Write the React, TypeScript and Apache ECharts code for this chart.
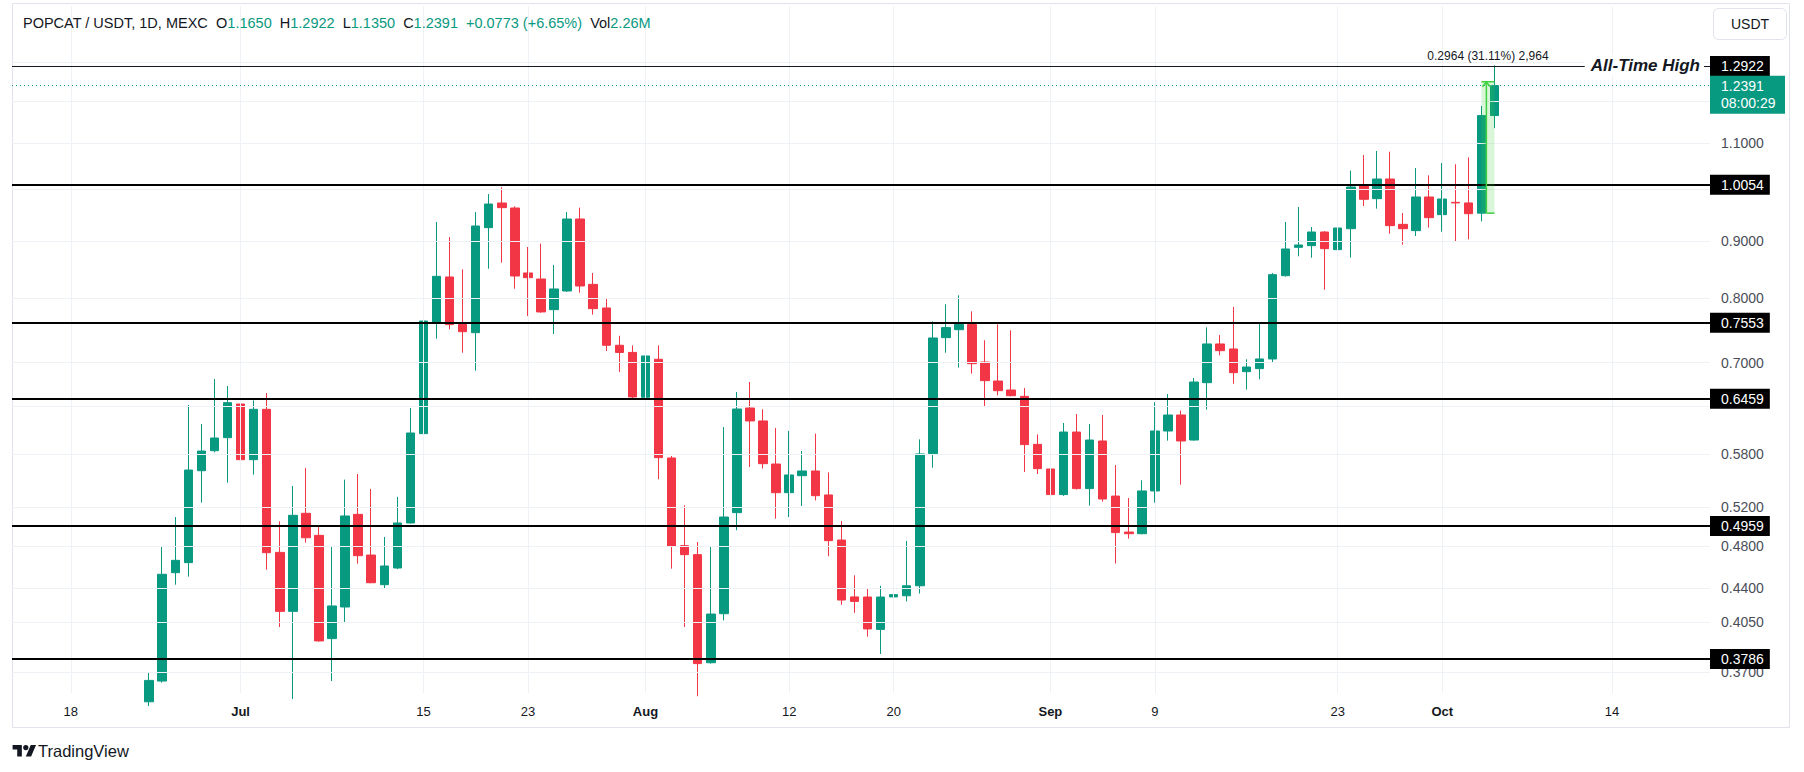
import React, { useEffect, useRef } from 'react';
import * as echarts from 'echarts';

const FONT = '"Liberation Sans", Arial, Helvetica, sans-serif';
const TEXT = '#131722';
const UP = '#089981';
const DOWN = '#f23645';
const GRID = '#eef1f6';
const MEASURE = '#3fd13f';

// ---- calendar of the time axis ----
const AXIS_START = '2024-06-14';
const AXIS_DAYS = 130;
const CANDLE_START = '2024-06-24';

// ---- daily candles, [open, high, low, close], one per day from CANDLE_START ----
const ohlc: number[][] = [
  [0.3480, 0.3693, 0.3450, 0.3637],
  [0.3632, 0.4788, 0.3620, 0.4526],
  [0.4541, 0.5093, 0.4430, 0.4658],
  [0.4636, 0.6416, 0.4504, 0.5611],
  [0.5603, 0.6169, 0.5246, 0.5835],
  [0.5839, 0.6769, 0.5820, 0.5994],
  [0.5998, 0.6672, 0.5467, 0.6447],
  [0.6429, 0.7083, 0.5710, 0.5732],
  [0.5732, 0.6478, 0.5558, 0.6359],
  [0.6359, 0.6576, 0.4569, 0.4732],
  [0.4735, 0.5048, 0.4060, 0.4193],
  [0.4193, 0.5429, 0.3500, 0.5111],
  [0.5132, 0.5634, 0.4831, 0.4880],
  [0.4904, 0.5000, 0.3940, 0.3945],
  [0.3964, 0.4798, 0.3632, 0.4240],
  [0.4231, 0.5501, 0.4102, 0.5104],
  [0.5121, 0.5565, 0.4626, 0.4703],
  [0.4709, 0.5396, 0.4443, 0.4448],
  [0.4430, 0.4888, 0.4390, 0.4604],
  [0.4585, 0.5308, 0.4575, 0.5031],
  [0.5031, 0.6376, 0.5025, 0.6056],
  [0.6048, 0.7718, 0.5973, 0.7628],
  [0.7603, 0.9355, 0.7356, 0.8364],
  [0.8353, 0.9070, 0.7499, 0.7572],
  [0.7576, 0.8486, 0.7146, 0.7462],
  [0.7447, 0.9550, 0.6886, 0.9278],
  [0.9247, 0.9910, 0.8497, 0.9708],
  [0.9729, 1.0050, 0.8603, 0.9636],
  [0.9629, 0.9662, 0.8154, 0.8370],
  [0.8422, 0.8885, 0.7707, 0.8341],
  [0.8318, 0.8947, 0.7760, 0.7772],
  [0.7809, 0.8562, 0.7427, 0.8149],
  [0.8115, 0.9550, 0.8100, 0.9413],
  [0.9413, 0.9636, 0.8087, 0.8199],
  [0.8227, 0.8422, 0.7729, 0.7825],
  [0.7836, 0.7990, 0.7170, 0.7256],
  [0.7256, 0.7400, 0.6867, 0.7150],
  [0.7150, 0.7255, 0.6500, 0.6523],
  [0.6519, 0.7150, 0.6027, 0.7098],
  [0.7050, 0.7255, 0.5505, 0.5756],
  [0.5752, 0.5776, 0.4579, 0.4794],
  [0.4801, 0.5217, 0.4060, 0.4713],
  [0.4713, 0.4837, 0.3520, 0.3765],
  [0.3772, 0.4788, 0.3765, 0.4170],
  [0.4173, 0.6131, 0.4116, 0.5093],
  [0.5139, 0.6590, 0.4956, 0.6363],
  [0.6376, 0.6727, 0.5646, 0.6208],
  [0.6208, 0.6359, 0.5627, 0.5685],
  [0.5681, 0.6119, 0.5076, 0.5355],
  [0.5355, 0.6082, 0.5093, 0.5554],
  [0.5546, 0.5836, 0.5210, 0.5600],
  [0.5600, 0.6048, 0.5271, 0.5322],
  [0.5330, 0.5584, 0.4697, 0.4851],
  [0.4857, 0.5051, 0.4250, 0.4292],
  [0.4320, 0.4516, 0.4180, 0.4280],
  [0.4319, 0.4400, 0.3980, 0.4044],
  [0.4040, 0.4420, 0.3840, 0.4319],
  [0.4320, 0.5121, 0.4250, 0.4340],
  [0.4330, 0.4848, 0.4280, 0.4420],
  [0.4420, 0.5977, 0.4350, 0.5800],
  [0.5803, 0.7623, 0.5638, 0.7366],
  [0.7371, 0.7896, 0.7146, 0.7525],
  [0.7493, 0.8043, 0.6929, 0.7576],
  [0.7576, 0.7782, 0.6844, 0.6986],
  [0.7010, 0.7331, 0.6394, 0.6746],
  [0.6741, 0.7576, 0.6545, 0.6608],
  [0.6617, 0.7484, 0.6530, 0.6540],
  [0.6531, 0.6644, 0.5588, 0.5913],
  [0.5916, 0.6039, 0.5565, 0.5627],
  [0.5623, 0.5795, 0.5203, 0.5334],
  [0.5334, 0.6182, 0.5320, 0.6068],
  [0.6068, 0.6297, 0.5390, 0.5400],
  [0.5400, 0.6169, 0.5214, 0.5969],
  [0.5957, 0.6285, 0.5257, 0.5286],
  [0.5318, 0.5669, 0.4627, 0.4932],
  [0.4938, 0.5297, 0.4871, 0.4921],
  [0.4921, 0.5493, 0.4915, 0.5374],
  [0.5374, 0.6451, 0.5246, 0.6081],
  [0.6081, 0.6562, 0.5961, 0.6285],
  [0.6285, 0.6342, 0.5444, 0.5957],
  [0.5969, 0.6783, 0.5960, 0.6727],
  [0.6718, 0.7529, 0.6355, 0.7276],
  [0.7276, 0.7412, 0.7107, 0.7176],
  [0.7201, 0.7852, 0.6704, 0.6858],
  [0.6872, 0.7049, 0.6622, 0.6938],
  [0.6915, 0.7608, 0.6765, 0.7054],
  [0.7054, 0.8420, 0.7010, 0.8393],
  [0.8375, 0.9355, 0.8360, 0.8849],
  [0.8879, 0.9649, 0.8716, 0.8922],
  [0.8910, 0.9259, 0.8692, 0.9164],
  [0.9164, 0.9180, 0.8137, 0.8855],
  [0.8837, 0.9850, 0.8638, 0.9240],
  [0.9227, 1.0399, 0.8692, 1.0055],
  [1.0075, 1.0740, 0.9669, 0.9803],
  [0.9816, 1.0829, 0.9616, 1.0222],
  [1.0222, 1.0814, 0.9133, 0.9285],
  [0.9310, 0.9530, 0.8928, 0.9227],
  [0.9190, 1.0456, 0.9089, 0.9850],
  [0.9850, 1.0299, 0.9247, 0.9439],
  [0.9498, 1.0564, 0.9170, 0.9809],
  [0.9742, 1.0536, 0.8996, 0.9730],
  [0.9730, 1.0689, 0.9027, 0.9517],
  [0.9527, 1.1882, 0.9368, 1.1650],
  [1.1650, 1.2922, 1.1350, 1.2391],
];

// ---- axes ----
const Y_MIN = 0.35437;
const Y_MAX = 1.46012;
const priceTicks = [1.3, 1.2, 1.1, 1.0, 0.9, 0.8, 0.7, 0.64, 0.58, 0.52, 0.48, 0.44, 0.405, 0.37];
const labelledTicks = [1.1, 0.9, 0.8, 0.7, 0.58, 0.52, 0.48, 0.44, 0.405, 0.37];
const xTicks: [string, string][] = [
  ['2024-06-18', '18'], ['2024-07-01', 'Jul'], ['2024-07-15', '15'], ['2024-07-23', '23'],
  ['2024-08-01', 'Aug'], ['2024-08-12', '12'], ['2024-08-20', '20'], ['2024-09-01', 'Sep'],
  ['2024-09-09', '9'], ['2024-09-23', '23'], ['2024-10-01', 'Oct'], ['2024-10-14', '14'],
];

// ---- drawings ----
const levels = [1.0054, 0.7553, 0.6459, 0.4959, 0.3786];
const ATH = 1.2922;
const ATH_LABEL = 'All-Time High';
const LAST = 1.2391;
const COUNTDOWN = '08:00:29';
const measure = { from: '2024-10-04', to: '2024-10-05', low: 0.9527, high: 1.2491, label: '0.2964 (31.11%) 2,964' };

// ---- header ----
const symbolTitle = 'POPCAT / USDT, 1D, MEXC';
const headerFields: [string, string][] = [['O', '1.1650'], ['H', '1.2922'], ['L', '1.1350'], ['C', '1.2391']];
const headerChange = '+0.0773 (+6.65%)';
const headerVol = '2.26M';

const TV_LOGO = 'M14 22H7V11H0V4h14v18zM28 22h-8l7.5-18h8L28 22zM24 8a4 4 0 1 1-8 0a4 4 0 1 1 8 0z';

function addDays(iso: string, n: number) {
  const d = new Date(iso + 'T00:00:00Z');
  d.setUTCDate(d.getUTCDate() + n);
  return d.toISOString().slice(0, 10);
}

function buildOption() {
  const categories = Array.from({ length: AXIS_DAYS }, (_, i) => addDays(AXIS_START, i));
  const candleMap = new Map(ohlc.map((r, i) => [addDays(CANDLE_START, i), r]));
  const candleData = categories.map((d) => {
    const r = candleMap.get(d);
    return r ? [r[0], r[3], r[2], r[1]] : ['-', '-', '-', '-'];
  });
  const tickMap = new Map(xTicks);

  const header =
    `{d|${symbolTitle}}` +
    headerFields.map(([k, v]) => `  {d|${k}}{g|${v}}`).join('') +
    `  {g|${headerChange}}  {d|Vol}{g|${headerVol}}`;

  const levelLabel = (v: number) => ({
    show: true,
    position: 'end',
    formatter: v.toFixed(4),
    color: '#fff',
    backgroundColor: '#000',
    padding: [3, 6, 3, 11],
    fontSize: 14,
    fontFamily: FONT,
    distance: 0,
  });

  return {
    animation: false,
    backgroundColor: '#ffffff',
    grid: { left: 12, right: 94, top: 6, bottom: 79 },
    xAxis: {
      type: 'category',
      data: categories,
      boundaryGap: true,
      axisLine: { show: false },
      axisTick: { show: false },
      splitLine: { show: false },
      axisLabel: {
        interval: (_i: number, v: string) => tickMap.has(v),
        formatter: (v: string) => {
          const t = tickMap.get(v) || '';
          return /\d/.test(t) ? t : `{m|${t}}`;
        },
        color: TEXT,
        fontSize: 13,
        fontFamily: FONT,
        margin: 12,
        rich: { m: { fontWeight: 'bold', fontSize: 13, color: TEXT, fontFamily: FONT } },
      },
    },
    yAxis: {
      type: 'log',
      logBase: 10,
      min: Y_MIN,
      max: Y_MAX,
      position: 'right',
      axisLine: { show: false },
      axisTick: { show: false },
      axisLabel: { show: false },
      splitLine: { show: false },
    },
    graphic: [
      {
        type: 'rect',
        shape: { x: 12.5, y: 3.5, width: 1777, height: 724 },
        style: { fill: 'none', stroke: '#e0e3eb', lineWidth: 1 },
        silent: true,
        z: 0,
      },
      {
        type: 'text',
        x: 23,
        y: 23,
        style: {
          text: header,
          verticalAlign: 'middle',
          fontSize: 14.5,
          fontFamily: FONT,
          fill: TEXT,
          rich: {
            d: { fontSize: 14.5, fontFamily: FONT, fill: TEXT, color: TEXT },
            g: { fontSize: 14.5, fontFamily: FONT, fill: UP, color: UP },
          },
        },
        z: 20,
      },
      {
        type: 'rect',
        shape: { x: 1713.5, y: 8.5, width: 73, height: 31, r: 5 },
        style: { fill: '#fff', stroke: '#e0e3eb', lineWidth: 1 },
        z: 20,
      },
      {
        type: 'text',
        x: 1750,
        y: 24,
        style: { text: 'USDT', align: 'center', verticalAlign: 'middle', fontSize: 14, fontFamily: FONT, fill: TEXT },
        z: 21,
      },
      {
        type: 'tvlogo',
        x: 12.6,
        y: 742.5,
        scaleX: 0.66,
        scaleY: 0.64,
        style: { fill: TEXT },
        z: 20,
      },
      {
        type: 'text',
        x: 38,
        y: 751,
        style: { text: 'TradingView', verticalAlign: 'middle', fontSize: 16.5, fontFamily: FONT, fill: TEXT },
        z: 20,
      },
    ],
    series: [
      {
        type: 'line',
        data: [],
        z: 1,
        silent: true,
        markLine: {
          silent: true,
          animation: false,
          symbol: ['none', 'none'],
          lineStyle: { color: GRID, width: 1, type: 'solid' },
          data: [
            ...xTicks.map(([d]) => ({ xAxis: categories.indexOf(d), label: { show: false } })),
            ...priceTicks.map((v) => ({
              yAxis: v,
              label: {
                show: labelledTicks.includes(v),
                position: 'end',
                formatter: v.toFixed(4),
                color: '#4a4d57',
                fontSize: 14,
                fontFamily: FONT,
                distance: 0,
                padding: [0, 0, 0, 11],
              },
            })),
          ],
        },
      },
      {
        type: 'candlestick',
        data: candleData,
        z: 3,
        barWidth: 9,
        clip: true,
        itemStyle: { color: UP, color0: DOWN, borderColor: UP, borderColor0: DOWN, borderWidth: 1 },
      },
      {
        type: 'line',
        data: [],
        z: 5,
        silent: true,
        markLine: {
          silent: true,
          animation: false,
          symbol: ['none', 'none'],
          data: [
            ...levels.map((v) => ({
              yAxis: v,
              lineStyle: { color: '#000', width: 2, type: 'solid' },
              label: levelLabel(v),
            })),
            { yAxis: ATH, lineStyle: { color: TEXT, width: 1, type: 'solid' }, label: levelLabel(ATH) },
            { yAxis: LAST, lineStyle: { color: UP, width: 1, type: [1, 3] }, label: { show: false } },
          ],
        },
      },
      {
        type: 'custom',
        z: 6,
        silent: true,
        data: [[categories.indexOf(measure.from), categories.indexOf(measure.to), measure.low, measure.high]],
        encode: { x: [0, 1], y: [2, 3] },
        renderItem: (_params: any, api: any) => {
          const tl = api.coord([api.value(0), api.value(3)]);
          const br = api.coord([api.value(1), api.value(2)]);
          const left = tl[0];
          const right = br[0];
          const top = tl[1];
          const bottom = br[1];
          const mid = left + (right - left) * 0.38;
          return {
            type: 'group',
            children: [
              { type: 'rect', shape: { x: left, y: top, width: right - left, height: bottom - top }, style: { fill: 'rgba(63, 209, 63, 0.2)' } },
              { type: 'line', shape: { x1: mid, y1: bottom, x2: mid, y2: top }, style: { stroke: MEASURE, lineWidth: 1.5 } },
              { type: 'polyline', shape: { points: [[mid - 4, top + 5], [mid, top + 0.5], [mid + 4, top + 5]] }, style: { stroke: MEASURE, fill: 'none', lineWidth: 1.5 } },
              { type: 'line', shape: { x1: left, y1: top, x2: right, y2: top }, style: { stroke: MEASURE, lineWidth: 1.5 } },
              { type: 'line', shape: { x1: mid, y1: bottom, x2: right, y2: bottom }, style: { stroke: MEASURE, lineWidth: 1.5 } },
              {
                type: 'text',
                x: (left + right) / 2,
                y: top - 26,
                style: { text: measure.label, align: 'center', verticalAlign: 'middle', fontSize: 12, fontFamily: FONT, fill: TEXT },
              },
            ],
          };
        },
      },
      {
        type: 'custom',
        z: 7,
        silent: true,
        data: [[0, ATH]],
        renderItem: (params: any, api: any) => {
          const p = api.coord([api.value(0), api.value(1)]);
          const right = params.coordSys.x + params.coordSys.width;
          return {
            type: 'text',
            x: right - 6,
            y: p[1],
            style: {
              text: ATH_LABEL,
              align: 'right',
              verticalAlign: 'middle',
              fontSize: 17,
              fontWeight: 'bold',
              fontStyle: 'italic',
              fontFamily: FONT,
              fill: TEXT,
              backgroundColor: '#fff',
              padding: [2, 4, 2, 6],
            },
          };
        },
      },
      {
        type: 'custom',
        z: 8,
        silent: true,
        data: [[0, LAST]],
        renderItem: (params: any, api: any) => {
          const p = api.coord([api.value(0), api.value(1)]);
          const right = params.coordSys.x + params.coordSys.width;
          return {
            type: 'group',
            children: [
              { type: 'rect', shape: { x: right, y: p[1] - 10, width: 75, height: 38 }, style: { fill: UP } },
              { type: 'text', x: right + 11, y: p[1], style: { text: LAST.toFixed(4), verticalAlign: 'middle', fontSize: 14, fontFamily: FONT, fill: '#fff' } },
              { type: 'text', x: right + 11, y: p[1] + 17, style: { text: COUNTDOWN, verticalAlign: 'middle', fontSize: 14, fontFamily: FONT, fill: '#fff' } },
            ],
          };
        },
      },
    ],
  };
}

export default function App() {
  const ref = useRef<HTMLDivElement>(null);
  useEffect(() => {
    const el = ref.current;
    if (!el) return;
    echarts.graphic.registerShape('tvlogo', (echarts.graphic as any).extendPath(TV_LOGO, {}));
    const chart = echarts.init(el, null, { renderer: 'svg' });
    chart.setOption(buildOption() as any);
    return () => chart.dispose();
  }, []);
  return (
    <div
      ref={ref}
      style={{ position: 'fixed', left: 0, top: 0, width: 1804, height: 772, background: '#fff' }}
    />
  );
}
